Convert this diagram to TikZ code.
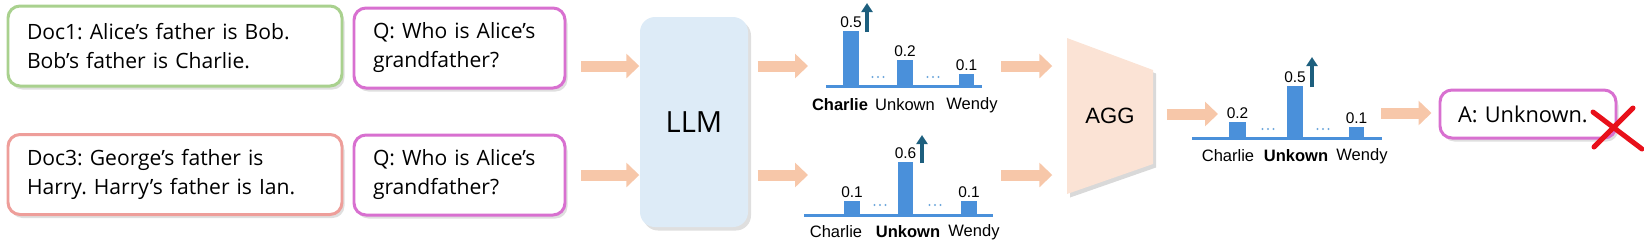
\documentclass[tikz,border=0pt]{standalone}
\usepackage{fontspec}
\setmainfont{Open Sans}
\newfontfamily\chartfont{Liberation Sans}
\usetikzlibrary{arrows.meta,shadows}
\frenchspacing

\definecolor{docgreen}{HTML}{A9D18E}
\definecolor{docred}{HTML}{EE9E9A}
\definecolor{qpink}{HTML}{D870D0}
\definecolor{llmblue}{HTML}{DDEBF7}
\definecolor{aggpeach}{HTML}{FBE3D5}
\definecolor{arroworange}{HTML}{F7C7A9}
\definecolor{barblue}{HTML}{4A90DA}
\definecolor{dotblue}{HTML}{6FA8DC}
\definecolor{upteal}{HTML}{1D5F7E}
\definecolor{crossred}{HTML}{E8101A}

\begin{document}
\begin{tikzpicture}[
    >=Latex, % default tip
    box/.style={draw, line width=0.85pt, rounded corners=0.12cm, fill=white,
        align=left, inner xsep=0.19cm, inner ysep=0cm, minimum height=0.8cm,
        font=\fontsize{6}{8.25}\selectfont,
        drop shadow={opacity=0.25, shadow xshift=0.025cm, shadow yshift=-0.035cm}},
    fatarrow/.style={-{Triangle[length=0.13cm,width=0.24cm]}, line width=0.11cm, draw=arroworange},
    uparrow/.style={-{Triangle[length=0.09cm,width=0.11cm]}, line width=0.035cm, draw=upteal},
    baseline/.style={draw=barblue, line width=0.03cm},
    num/.style={font=\fontsize{4.4}{5}\chartfont\selectfont, anchor=south, inner sep=0.03cm},
    lab/.style={font=\fontsize{4.7}{5.5}\chartfont\selectfont, inner sep=0cm}
]
    \useasboundingbox (0,0) rectangle (16.44,2.44);

    % Documents and questions
    \node[box, draw=docgreen, text width=2.96cm] (doc1) at (1.75,1.98)
        {Doc1: Alice’s father is Bob.\\Bob’s father is Charlie.};
    \node[box, draw=docred, text width=2.96cm] (doc3) at (1.75,0.695)
        {Doc3: George’s father is\\Harry. Harry’s father is Ian.};
    \node[box, draw=qpink, text width=1.73cm] (q1) at (4.595,1.96)
        {Q: Who is Alice’s\\grandfather?};
    \node[box, draw=qpink, text width=1.73cm] (q2) at (4.595,0.69)
        {Q: Who is Alice’s\\grandfather?};

    % LLM block
    \node[fill=llmblue, rounded corners=0.15cm, minimum width=1.08cm, minimum height=2.1cm,
        font=\fontsize{8.3}{10}\selectfont,
        drop shadow={opacity=0.25, shadow xshift=0.03cm, shadow yshift=-0.035cm}] (llm) at (6.94,1.22) {LLM};

    % AGG block (trapezoid)
    \fill[aggpeach, drop shadow={opacity=0.3, shadow xshift=0.03cm, shadow yshift=-0.035cm}]
        (10.67,2.06) -- (11.53,1.74) -- (11.53,0.80) -- (10.67,0.50) -- cycle;
    \node[minimum width=0.86cm, minimum height=1.56cm, inner sep=0,
        font=\fontsize{6.3}{8}\chartfont\selectfont] (agg) at (11.10,1.28) {AGG};

    % Answer
    \node[box, draw=qpink, text width=1.4cm, inner xsep=0.18cm, minimum height=0.48cm,
        font=\fontsize{6.2}{8}\selectfont] (ans) at (15.28,1.30) {A: Unknown.};

    % arrow rows and chart ends
    \coordinate (row1) at (0,1.78);
    \coordinate (row2) at (0,0.69);
    \coordinate (ch1in) at (8.08,1.78);
    \coordinate (ch1out) at (10.01,1.78);
    \coordinate (ch2in) at (8.08,0.69);
    \coordinate (ch2out) at (10.01,0.69);
    \coordinate (ch3in) at (12.18,1.30);
    \coordinate (ch3out) at (13.81,1.31);

    % Chart 1
    \draw[baseline] (8.26,1.58) -- (9.82,1.58);
    \foreach \xa/\xb/\top/\val [count=\i] in {8.43/8.59/2.13/0.5, 8.97/9.13/1.84/0.2, 9.59/9.74/1.70/0.1}{
        \fill[barblue] (\xa,1.58) rectangle (\xb,\top);
        \node[num] (va\i) at ({(\xa+\xb)/2},\top) {\val};
    }
    \foreach \x in {8.78,9.33}
        \foreach \dx in {-0.055,0,0.055}
            \fill[dotblue] (\x+\dx,1.67) circle (0.012);
    \draw[uparrow] (8.67,2.12) -- (8.67,2.41);
    \node[lab] (la1) at (8.40,1.39) {\textbf{Charlie}};
    \node[lab] (la2) at (9.05,1.39) {Unkown};
    \node[lab] (la3) at (9.72,1.39) {Wendy};

    % Chart 2
    \draw[baseline] (8.04,0.29) -- (9.93,0.29);
    \foreach \xa/\xb/\top/\val [count=\i] in {8.44/8.60/0.43/0.1, 8.98/9.13/0.82/0.6, 9.61/9.77/0.43/0.1}{
        \fill[barblue] (\xa,0.29) rectangle (\xb,\top);
        \node[num] (vb\i) at ({(\xa+\xb)/2},\top) {\val};
    }
    \foreach \x in {8.80,9.35}
        \foreach \dx in {-0.055,0,0.055}
            \fill[dotblue] (\x+\dx,0.39) circle (0.012);
    \draw[uparrow] (9.22,0.81) -- (9.22,1.09);
    \node[lab] (lb1) at (8.36,0.12) {Charlie};
    \node[lab] (lb2) at (9.08,0.12) {\textbf{Unkown}};
    \node[lab] (lb3) at (9.74,0.12) {Wendy};

    % Chart 3 (aggregated)
    \draw[baseline] (11.92,1.06) -- (13.82,1.06);
    \foreach \xa/\xb/\top/\val [count=\i] in {12.29/12.46/1.22/0.2, 12.87/13.03/1.58/0.5, 13.49/13.64/1.17/0.1}{
        \fill[barblue] (\xa,1.06) rectangle (\xb,\top);
        \node[num] (vc\i) at ({(\xa+\xb)/2},\top) {\val};
    }
    \foreach \x in {12.68,13.23}
        \foreach \dx in {-0.055,0,0.055}
            \fill[dotblue] (\x+\dx,1.15) circle (0.012);
    \draw[uparrow] (13.12,1.57) -- (13.12,1.87);
    \node[lab] (lc1) at (12.28,0.88) {Charlie};
    \node[lab] (lc2) at (12.96,0.88) {\textbf{Unkown}};
    \node[lab] (lc3) at (13.62,0.88) {Wendy};

    % Fat arrows
    \draw[fatarrow, shorten <=0.15cm] (q1.east |- row1) -- (llm.west |- row1);
    \draw[fatarrow, shorten <=0.15cm] (q2.east |- row2) -- (llm.west |- row2);
    \draw[fatarrow, shorten <=0.09cm] (llm.east |- row1) -- (ch1in);
    \draw[fatarrow, shorten <=0.09cm] (llm.east |- row2) -- (ch2in);
    \draw[fatarrow, shorten >=0.14cm] (ch1out) -- (agg.west |- ch1out);
    \draw[fatarrow, shorten >=0.14cm] (ch2out) -- (agg.west |- ch2out);
    \draw[fatarrow, shorten <=0.13cm] (agg.east |- ch3in) -- (ch3in);
    \draw[fatarrow, shorten >=0.07cm] (ch3out) -- (ans.west |- ch3out);

    % Red cross on the answer
    \draw[crossred, line width=0.05cm, line cap=round] (15.93,1.32) -- (16.42,0.95);
    \draw[crossred, line width=0.05cm, line cap=round] (16.33,1.36) -- (15.94,0.97);

\end{tikzpicture}
\end{document}
